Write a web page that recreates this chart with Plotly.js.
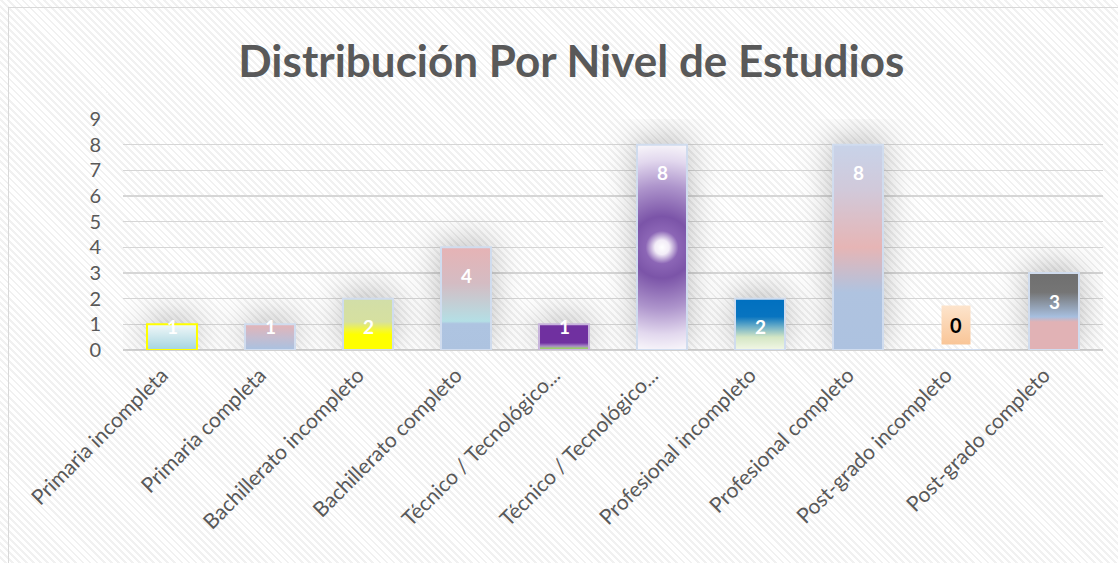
<!DOCTYPE html>
<html>
<head>
<meta charset="utf-8">
<script src="https://cdn.plot.ly/plotly-3.0.1.min.js"></script>
<style>
  html, body { margin:0; padding:0; }
  body {
    width:1118px; height:563px; overflow:hidden;
    background: repeating-linear-gradient(45deg, #ffffff 0px, #ffffff 3px, #f1f1f1 3px, #f1f1f1 5px);
    position:relative;
  }
  #frame { position:absolute; left:8px; top:7px; width:1200px; height:700px; border:1.5px solid #d9d9d9; box-sizing:border-box; pointer-events:none; }
  #chart { position:absolute; left:0; top:0; width:1118px; height:563px; }
</style>
</head>
<body>
<div id="frame"></div>
<div id="chart"></div>
<script>
// ---- data ----
const categories = [
  "Primaria incompleta",
  "Primaria completa",
  "Bachillerato incompleto",
  "Bachillerato completo",
  "Técnico / Tecnológico incompleto",
  "Técnico / Tecnológico completo",
  "Profesional incompleto",
  "Profesional completo",
  "Post-grado incompleto",
  "Post-grado completo"
];
const tickLabels = [
  "Primaria incompleta",
  "Primaria completa",
  "Bachillerato incompleto",
  "Bachillerato completo",
  "Técnico / Tecnológico...",
  "Técnico / Tecnológico...",
  "Profesional incompleto",
  "Profesional completo",
  "Post-grado incompleto",
  "Post-grado completo"
];
const values = [1, 1, 2, 4, 1, 8, 2, 8, 0, 3];
const titleText = "Distribución Por Nivel de Estudios";

// ---- styles (gradient fills per bar) ----
const barFills = [
  {type:"linear", stops:[[0,"#f2f8f9"],[0.5,"#cbe6ec"],[1,"#a4d5df"]]},
  {type:"linear", stops:[[0,"#e4b4b7"],[0.5,"#c5bccf"],[1,"#a9c2e1"]]},
  {type:"linear", stops:[[0,"#d2dea8"],[0.45,"#d6e0a0"],[0.62,"#f6f830"],[0.7,"#ffff00"],[1,"#ffff00"]]},
  {type:"linear", stops:[[0,"#e6b3b5"],[0.35,"#d4bcc3"],[0.72,"#b4dfe5"],[0.745,"#aec4e1"],[1,"#adc3e0"]]},
  {type:"linear", stops:[[0,"#7030a0"],[0.72,"#7030a0"],[0.85,"#a888c8"],[0.93,"#9ccc70"],[1,"#92d050"]]},
  {type:"radial", stops:[[0,"#ffffff"],[0.07,"#f2ecf7"],[0.16,"#8c66b6"],[0.3,"#7b54a8"],[0.6,"#ae95cc"],[0.85,"#e2d8ee"],[1,"#f6f3f9"]]},
  {type:"linear", stops:[[0,"#0070c0"],[0.35,"#0874c0"],[0.55,"#6fb0c8"],[0.75,"#d4e6c4"],[1,"#f2f7e6"]]},
  {type:"linear", stops:[[0,"#c8d3e9"],[0.22,"#d1c9da"],[0.5,"#e6b5b5"],[0.72,"#afc3e0"],[1,"#adc2e0"]]},
  {type:"linear", stops:[[0,"#fde4cc"],[1,"#f9c597"]]},
  {type:"linear", stops:[[0,"#6f6f6f"],[0.25,"#757575"],[0.57,"#a7bfdf"],[0.635,"#e1b2b5"],[1,"#e1b2b5"]]}
];
const barBorders = ["#ffff00","#d0dcee","#d0dcee","#d0dcee","#c8b4dc","#d0dcee","#d0dcee","#d0dcee","#d0dcee","#d0dcee"];

const textColor = "#595959";
const fontFam = "Lato, 'Open Sans', sans-serif";

const annotations = values.map((v, i) => {
  if (v === 0) {
    return {
      x: categories[i], y: v, xref: "x", yref: "y",
      text: "<b>" + v + "</b>", showarrow: false,
      yanchor: "middle", yshift: 25,
      font: {family: fontFam, size: 20, color: "#000000"},
      bgcolor: "#fbd2ac", borderpad: 7, width: 14
    };
  }
  return {
    x: categories[i], y: v, xref: "x", yref: "y",
    text: "<b>" + v + "</b>", showarrow: false,
    yanchor: "middle",
    yshift: -Math.min(28, Math.max(1.5, v * 25.67 - 24)),
    font: {family: fontFam, size: 19, color: "#ffffff"}
  };
});

const trace = {
  type: "bar",
  x: categories,
  y: values,
  marker: {color: "#aec3e0", line: {color: barBorders, width: 2}},
  hoverinfo: "none"
};

const layout = {
  width: 1118, height: 563,
  paper_bgcolor: "rgba(0,0,0,0)",
  plot_bgcolor: "rgba(0,0,0,0)",
  margin: {l: 123, r: 15, t: 119, b: 213},
  bargap: 0.49,
  showlegend: false,
  title: {
    text: "<b>" + titleText + "</b>",
    font: {family: fontFam, size: 44, color: textColor},
    x: 0.511, xref: "container", xanchor: "center",
    y: 1 - 62/563, yref: "container", yanchor: "middle"
  },
  xaxis: {
    type: "category",
    tickmode: "array", tickvals: categories, ticktext: tickLabels,
    tickangle: -45,
    tickfont: {family: fontFam, size: 21, color: textColor},
    ticklabelshift: -10, ticklabelstandoff: 8,
    showgrid: false, zeroline: false, showline: false, ticks: ""
  },
  yaxis: {
    range: [0, 9], dtick: 1, tick0: 0,
    tickfont: {family: fontFam, size: 20, color: textColor},
    gridcolor: "#d6d6d6", gridwidth: 1.6,
    zeroline: true, zerolinecolor: "#d0d0d0", zerolinewidth: 1.6,
    showline: false, ticks: "", ticklabelstandoff: 21
  },
  annotations: annotations
};

Plotly.newPlot("chart", [trace], layout, {staticPlot: true, displayModeBar: false}).then(gd => {
  const svg = gd.querySelector(".main-svg");
  const NS = "http://www.w3.org/2000/svg";
  let defs = svg.querySelector("defs");
  if (!defs) { defs = document.createElementNS(NS, "defs"); svg.insertBefore(defs, svg.firstChild); }
  const paths = gd.querySelectorAll(".barlayer .point path");
  paths.forEach((p, i) => {
    const f = barFills[i];
    if (!f) return;
    let g;
    if (f.type === "radial") {
      const bb = p.getBBox();
      g = document.createElementNS(NS, "radialGradient");
      g.setAttribute("gradientUnits", "userSpaceOnUse");
      g.setAttribute("cx", bb.x + bb.width/2);
      g.setAttribute("cy", bb.y + bb.height/2);
      g.setAttribute("r", bb.height/2);
    } else {
      g = document.createElementNS(NS, "linearGradient");
      g.setAttribute("x1", "0"); g.setAttribute("y1", "0");
      g.setAttribute("x2", "0"); g.setAttribute("y2", "1");
    }
    g.setAttribute("id", "barfill" + i);
    f.stops.forEach(s => {
      const st = document.createElementNS(NS, "stop");
      st.setAttribute("offset", s[0]);
      st.setAttribute("stop-color", s[1]);
      g.appendChild(st);
    });
    defs.appendChild(g);
    p.style.fill = "url(#barfill" + i + ")";
    p.style.fillOpacity = 1;
    if (values[i] > 0) p.style.filter = "drop-shadow(0px -5px 16px rgba(0,0,0,0.26))";
  });
  // zero-value label box gradient
  const bgs = gd.querySelectorAll(".annotation .bg");
  values.forEach((v, i) => {
    if (v === 0 && bgs[i]) {
      bgs[i].style.fill = "url(#barfill" + i + ")";
    }
  });
});
</script>
</body>
</html>
